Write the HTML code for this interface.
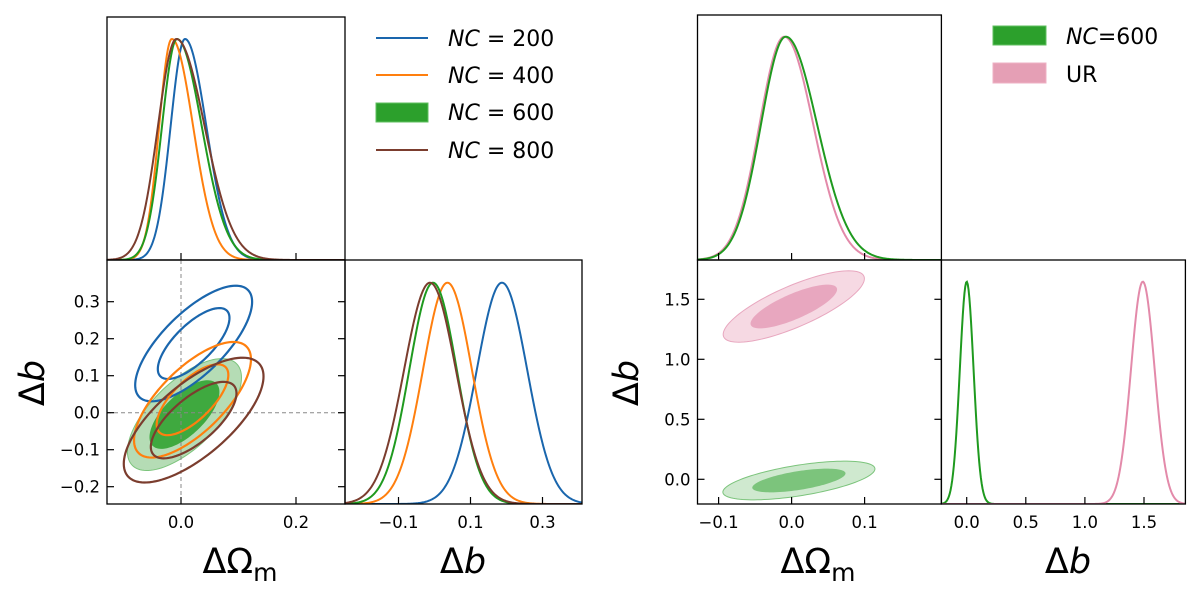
<!DOCTYPE html>
<html><head><meta charset="utf-8">
<style>
body{margin:0;background:#fff;}
svg{display:block;font-family:"DejaVu Sans","Liberation Sans",sans-serif;}
</style></head>
<body>
<svg id="chart" width="1200" height="596" viewBox="0 0 1200 596"></svg>
<script>
// ---- Left figure data ----
const leftSeriesNames = ["NC = 200","NC = 400","NC = 600","NC = 800"];
const leftColors = ["#1a66ad","#ff7f0e","#1f9a1f","#7b3d2e"];
const omMean = [0.007,-0.016,-0.007,-0.008];
const omSigL = [0.025,0.022,0.026,0.032];
const omSigR = [0.037,0.037,0.043,0.049];
const bMean = [0.1875,0.036,-0.004,-0.0125];
const bSig = [0.07,0.068,0.066,0.072];
const ellOmC = [0.022,0.02,0.006,0.022];
const ellBC = [0.187,0.035,-0.005,-0.02];
const ellSx = [0.041,0.041,0.04,0.049];
const ellSy = [0.063,0.063,0.061,0.068];
const ellRho = [0.72,0.7,0.66,0.7];
const leftOmTicks = [0.0,0.2];
const leftBTicks = [-0.2,-0.1,0.0,0.1,0.2,0.3];
const leftB1dTicks = [-0.1,0.1,0.3];
// ---- Right figure data ----
const rightSeriesNames = ["NC=600","UR"];
const rightLine = ["#1f9a1f","#e38aaa"];
const rightInner = ["#7cc47c","#e8a7bf"];
const rightOuter = ["#cfe9cf","#f6d9e3"];
const rOmMean = [-0.008,-0.010];
const rOmSigL = [0.034,0.034];
const rOmSigR = [0.043,0.0397];
const rBMean = [0.0,1.49];
const rBSig = [0.058,0.1];
const rEllOm = [0.01,0.003];
const rEllB = [-0.01,1.44];
const rEllSx = [0.042,0.039];
const rEllSy = [0.065,0.12];
const rEllRho = [0.6,0.78];
const rightOmTicks = [-0.1,0.0,0.1];
const rightBTicks = [0.0,0.5,1.0,1.5];
const rightB1dTicks = [0.0,0.5,1.0,1.5];

const svg = document.getElementById('chart');
const NS = 'http://www.w3.org/2000/svg';
function mk(tag, attrs, parent){const e=document.createElementNS(NS,tag);for(const k in attrs)e.setAttribute(k,attrs[k]);(parent||svg).appendChild(e);return e;}
function lin(d0,d1,r0,r1){return v=>r0+(v-d0)/(d1-d0)*(r1-r0);}
function fmt(v){const s=v.toFixed(1);return v<0?'\u2212'+s.slice(1):s;}
function splitNorm(x,m,sl,sr){const s=x<m?sl:sr;return Math.exp(-0.5*((x-m)/s)**2);}
function curve(xs,ys,fn,d0,d1){let p='';for(let i=0;i<=300;i++){const x=d0+(d1-d0)*i/300;p+=(i?'L':'M')+xs(x).toFixed(2)+','+ys(fn(x)).toFixed(2);}return p;}
function ellPath(xs,ys,mx,my,sx,sy,rho,r){let p='';for(let i=0;i<=120;i++){const t=2*Math.PI*i/120;const x=mx+r*sx*Math.cos(t);const y=my+r*sy*(rho*Math.cos(t)+Math.sqrt(1-rho*rho)*Math.sin(t));p+=(i?'L':'M')+xs(x).toFixed(2)+','+ys(y).toFixed(2);}return p+'Z';}
function frame(x0,y0,x1,y1,name){const r=mk('rect',{x:x0,y:y0,width:x1-x0,height:y1-y0,fill:'none',stroke:'#000','stroke-width':1.3});}
function xTicks(xs,ticks,yb,labels,name){const g=mk('g',{});ticks.forEach(t=>{mk('line',{x1:xs(t),x2:xs(t),y1:yb,y2:yb-7,stroke:'#000','stroke-width':1.2},g);if(labels){const tx=mk('text',{x:xs(t),y:yb+24,'font-size':16.5,'text-anchor':'middle'},g);tx.textContent=fmt(t);}});}
function yTicks(ys,ticks,x0,x1,name){const g=mk('g',{});ticks.forEach(t=>{mk('line',{x1:x0,x2:x0+7,y1:ys(t),y2:ys(t),stroke:'#000','stroke-width':1.2},g);mk('line',{x1:x1,x2:x1-7,y1:ys(t),y2:ys(t),stroke:'#000','stroke-width':1.2},g);const tx=mk('text',{x:x0-7,y:ys(t)+6,'font-size':16.5,'text-anchor':'end'},g);tx.textContent=fmt(t);});}
const R1=1.52,R2=2.48;

// ===== LEFT =====
const LX0=107,LX1=345,LX2=582,LT=17,LM=260,LB=504;
const lOmX=lin(0,0.2,181,296);
const lBY=lin(0,0.3,412.7,301.7);
const lB1X=lin(-0.1,0.1,398.5,470.5);
const lTopY=lin(0,1,LM,39);
let cp=mk('clipPath',{id:'c1'});mk('rect',{x:LX0,y:LT,width:LX1-LX0,height:LM-LT},cp);
leftColors.forEach((c,i)=>{const p=mk('path',{d:curve(lOmX,lTopY,x=>splitNorm(x,omMean[i],omSigL[i],omSigR[i]),-0.129,0.285),fill:'none',stroke:c,'stroke-width':2,'clip-path':'url(#c1)'});});
frame(LX0,LT,LX1,LM,'left-omega-m-1d-panel');
xTicks(lOmX,leftOmTicks,LM,false,'left-top-x-ticks');
cp=mk('clipPath',{id:'c2'});mk('rect',{x:LX0,y:LM,width:LX1-LX0,height:LB-LM},cp);
const g2=mk('g',{'clip-path':'url(#c2)'});
mk('path',{d:ellPath(lOmX,lBY,ellOmC[2],ellBC[2],ellSx[2],ellSy[2],ellRho[2],R2),fill:'#b5dcb5',stroke:'#7cc47c','stroke-width':1},g2);
mk('path',{d:ellPath(lOmX,lBY,ellOmC[2],ellBC[2],ellSx[2],ellSy[2],ellRho[2],R1),fill:'#3fa93f'},g2);
mk('line',{x1:lOmX(0),x2:lOmX(0),y1:LM,y2:LB,stroke:'#888','stroke-width':1,'stroke-dasharray':'4,3'},g2);
mk('line',{x1:LX0,x2:LX1,y1:lBY(0),y2:lBY(0),stroke:'#888','stroke-width':1,'stroke-dasharray':'4,3'},g2);
[0,1,3].forEach(i=>{[R1,R2].forEach((r,k)=>{const p=mk('path',{d:ellPath(lOmX,lBY,ellOmC[i],ellBC[i],ellSx[i],ellSy[i],ellRho[i],r),fill:'none',stroke:leftColors[i],'stroke-width':2.2},g2);});});
frame(LX0,LM,LX1,LB,'left-2d-panel');
xTicks(lOmX,leftOmTicks,LB,true,'left-omega-m-ticks');
yTicks(lBY,leftBTicks,LX0,LX1,'left-b-ticks');
cp=mk('clipPath',{id:'c3'});mk('rect',{x:LX1,y:LM,width:LX2-LX1,height:LB-LM},cp);
const lB1Y=lin(0,1,LB,282.7);
leftColors.forEach((c,i)=>{const p=mk('path',{d:curve(lB1X,lB1Y,x=>splitNorm(x,bMean[i],bSig[i],bSig[i]),-0.25,0.41),fill:'none',stroke:c,'stroke-width':2,'clip-path':'url(#c3)'});});
frame(LX1,LM,LX2,LB,'left-b-1d-panel');
xTicks(lB1X,leftB1dTicks,LB,true,'left-b1d-ticks');
const lg=mk('g',{});
const legY=[38,75,112,150];
leftSeriesNames.forEach((n,i)=>{if(i===2)mk('rect',{x:376,y:legY[i]-9,width:52,height:19,fill:'#2ca02c',stroke:'#5fbf5f'},lg);else mk('line',{x1:376,x2:428,y1:legY[i],y2:legY[i],stroke:leftColors[i],'stroke-width':2},lg);const t=mk('text',{x:448,y:legY[i]+8,'font-size':22},lg);t.innerHTML='<tspan font-style="italic">NC</tspan> '+n.slice(3);});
let t=mk('text',{x:240,y:573,'font-size':35,'text-anchor':'middle'});t.innerHTML='ΔΩ<tspan font-size="25" dy="8">m</tspan>';
t=mk('text',{x:463,y:573,'font-size':35,'text-anchor':'middle'});t.innerHTML='Δ<tspan font-style="italic">b</tspan>';
t=mk('text',{x:0,y:0,'font-size':35,'text-anchor':'middle',transform:'translate(44,383) rotate(-90)'});t.innerHTML='Δ<tspan font-style="italic">b</tspan>';

// ===== RIGHT =====
const RX0=697.5,RX1=941.4,RX2=1185.4,RT=15,RM=260,RB=504;
const rOmX=lin(0,0.1,791.6,864.6);
const rBY=lin(0,1.5,479.3,299.3);
const rB1X=lin(0,1.5,966.7,1144);
const rTopY=lin(0,1,RM,36.7);
cp=mk('clipPath',{id:'c4'});mk('rect',{x:RX0,y:RT,width:RX1-RX0,height:RM-RT},cp);
[1,0].forEach(i=>{const p=mk('path',{d:curve(rOmX,rTopY,x=>splitNorm(x,rOmMean[i],rOmSigL[i],rOmSigR[i]),-0.13,0.205),fill:'none',stroke:rightLine[i],'stroke-width':2,'clip-path':'url(#c4)'});});
frame(RX0,RT,RX1,RM,'right-omega-m-1d-panel');
xTicks(rOmX,rightOmTicks,RM,false,'right-top-x-ticks');
cp=mk('clipPath',{id:'c5'});mk('rect',{x:RX0,y:RM,width:RX1-RX0,height:RB-RM},cp);
const g5=mk('g',{'clip-path':'url(#c5)'});
[0,1].forEach(i=>{let p=mk('path',{d:ellPath(rOmX,rBY,rEllOm[i],rEllB[i],rEllSx[i],rEllSy[i],rEllRho[i],R2),fill:rightOuter[i],stroke:rightInner[i],'stroke-width':1},g5);
p=mk('path',{d:ellPath(rOmX,rBY,rEllOm[i],rEllB[i],rEllSx[i],rEllSy[i],rEllRho[i],R1),fill:rightInner[i]},g5);});
frame(RX0,RM,RX1,RB,'right-2d-panel');
xTicks(rOmX,rightOmTicks,RB,true,'right-omega-m-ticks');
yTicks(rBY,rightBTicks,RX0,RX1,'right-b-ticks');
cp=mk('clipPath',{id:'c6'});mk('rect',{x:RX1,y:RM,width:RX2-RX1,height:RB-RM},cp);
const rB1Y=lin(0,1,RB,281.7);
[0,1].forEach(i=>{const p=mk('path',{d:curve(rB1X,rB1Y,x=>splitNorm(x,rBMean[i],rBSig[i],rBSig[i]),-0.22,1.86),fill:'none',stroke:rightLine[i],'stroke-width':2,'clip-path':'url(#c6)'});});
frame(RX1,RM,RX2,RB,'right-b-1d-panel');
xTicks(rB1X,rightB1dTicks,RB,true,'right-b1d-ticks');
const rg=mk('g',{});
mk('rect',{x:993,y:26,width:53,height:19,fill:'#2ca02c',stroke:'#5fbf5f'},rg);
mk('rect',{x:993,y:63,width:53,height:20,fill:'#e59fb5',stroke:'#eeb0c4'},rg);
t=mk('text',{x:1066,y:44,'font-size':22},rg);t.innerHTML='<tspan font-style="italic">NC</tspan>=600';
t=mk('text',{x:1066,y:82,'font-size':22},rg);t.textContent='UR';
t=mk('text',{x:818,y:573,'font-size':35,'text-anchor':'middle'});t.innerHTML='ΔΩ<tspan font-size="25" dy="8">m</tspan>';
t=mk('text',{x:1068,y:573,'font-size':35,'text-anchor':'middle'});t.innerHTML='Δ<tspan font-style="italic">b</tspan>';
t=mk('text',{x:0,y:0,'font-size':35,'text-anchor':'middle',transform:'translate(638,383) rotate(-90)'});t.innerHTML='Δ<tspan font-style="italic">b</tspan>';
</script>
</body></html>
